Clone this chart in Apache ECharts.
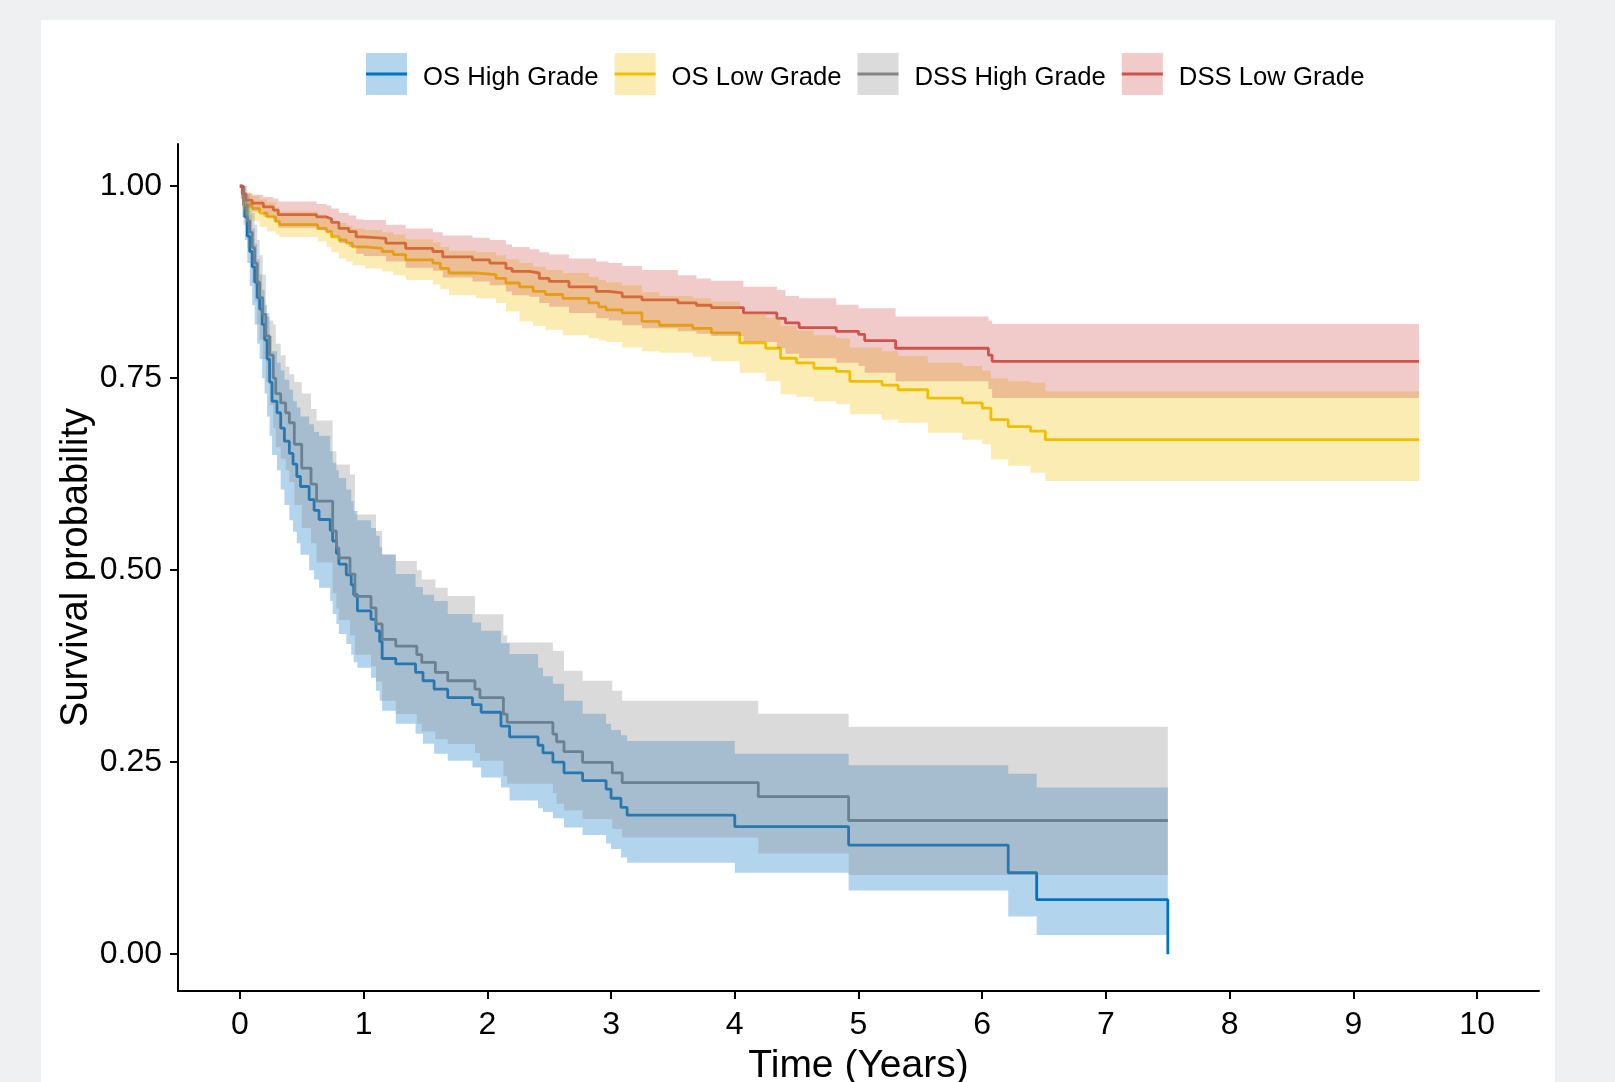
<!DOCTYPE html>
<html>
<head>
<meta charset="utf-8">
<script src="https://cdn.jsdelivr.net/npm/echarts@6/dist/echarts.min.js"></script>
<style>
html, body { margin: 0; padding: 0; background: #eff0f2; }
#panel { position: absolute; left: 41px; top: 20px; width: 1514px; height: 1062px; background: #fff; }
#main { position: absolute; left: 0; top: 0; width: 1615px; height: 1082px; }
</style>
</head>
<body>
<div id="panel"></div>
<div id="main"></div>
<script>
var FONT = "'Liberation Sans', Arial, sans-serif";

var names = ['OS High Grade', 'OS Low Grade', 'DSS High Grade', 'DSS Low Grade'];
var lineColors = ['#0073C2', '#EFC000', '#868686', '#CD534C'];
var bandColors = ['rgba(0,115,194,0.3)', 'rgba(239,192,0,0.3)', 'rgba(134,134,134,0.3)', 'rgba(205,83,76,0.3)'];
var keyColors = ['#b3d5ed', '#faecb3', '#dbdbdb', '#f0cbc9'];

var xTicks = [0, 1, 2, 3, 4, 5, 6, 7, 8, 9, 10];
var yTicks = [0, 0.25, 0.5, 0.75, 1];

// OS High Grade
var osHighT = [0, 0.02, 0.04, 0.06, 0.08, 0.10, 0.12, 0.14, 0.16, 0.18, 0.20, 0.22, 0.24, 0.26, 0.30, 0.33, 0.36, 0.40, 0.43, 0.46, 0.49, 0.56, 0.60, 0.64, 0.73, 0.75, 0.78, 0.80, 0.86, 0.90, 0.92, 0.95, 1.06, 1.10, 1.13, 1.15, 1.26, 1.42, 1.48, 1.57, 1.68, 1.88, 1.95, 2.11, 2.18, 2.41, 2.45, 2.53, 2.62, 2.77, 2.96, 3.00, 3.08, 3.13, 4.00, 4.92, 6.21, 6.44, 7.50];
var osHighS = [1, 0.985, 0.96, 0.935, 0.915, 0.895, 0.875, 0.855, 0.84, 0.82, 0.80, 0.775, 0.745, 0.72, 0.705, 0.685, 0.668, 0.652, 0.638, 0.622, 0.609, 0.592, 0.578, 0.566, 0.552, 0.538, 0.522, 0.508, 0.494, 0.481, 0.468, 0.447, 0.436, 0.421, 0.407, 0.385, 0.378, 0.367, 0.356, 0.345, 0.334, 0.325, 0.315, 0.297, 0.283, 0.272, 0.262, 0.25, 0.236, 0.226, 0.215, 0.203, 0.191, 0.181, 0.166, 0.142, 0.106, 0.071, 0];
var osHighLo = [1, 0.96, 0.93, 0.90, 0.87, 0.845, 0.82, 0.795, 0.775, 0.75, 0.73, 0.70, 0.675, 0.65, 0.63, 0.605, 0.585, 0.565, 0.55, 0.535, 0.52, 0.50, 0.488, 0.477, 0.46, 0.443, 0.43, 0.417, 0.404, 0.39, 0.38, 0.373, 0.36, 0.343, 0.33, 0.317, 0.300, 0.287, 0.274, 0.261, 0.252, 0.243, 0.230, 0.217, 0.200, 0.190, 0.185, 0.177, 0.165, 0.155, 0.144, 0.137, 0.126, 0.119, 0.106, 0.083, 0.049, 0.025, 0.025];
var osHighUp = [1, 1, 0.99, 0.975, 0.963, 0.945, 0.925, 0.905, 0.885, 0.865, 0.845, 0.83, 0.805, 0.785, 0.77, 0.76, 0.748, 0.735, 0.72, 0.712, 0.70, 0.69, 0.68, 0.675, 0.655, 0.64, 0.63, 0.62, 0.605, 0.59, 0.577, 0.565, 0.555, 0.545, 0.53, 0.52, 0.495, 0.478, 0.468, 0.46, 0.443, 0.432, 0.421, 0.405, 0.391, 0.373, 0.362, 0.352, 0.330, 0.313, 0.300, 0.292, 0.285, 0.2775, 0.261, 0.246, 0.235, 0.217, 0.217];

// OS Low Grade
var osLowT = [0, 0.02, 0.04, 0.10, 0.16, 0.22, 0.29, 0.32, 0.63, 0.70, 0.74, 0.80, 0.86, 0.91, 1.01, 1.15, 1.24, 1.34, 1.56, 1.62, 1.69, 1.91, 2.07, 2.15, 2.26, 2.37, 2.47, 2.61, 2.82, 2.90, 2.96, 3.09, 3.25, 3.39, 3.66, 3.81, 4.04, 4.25, 4.37, 4.50, 4.64, 4.82, 4.93, 5.19, 5.32, 5.56, 5.84, 6.00, 6.07, 6.21, 6.39, 6.51, 9.53];
var osLowS = [1, 0.985, 0.976, 0.971, 0.965, 0.96, 0.954, 0.95, 0.945, 0.941, 0.934, 0.93, 0.926, 0.921, 0.919, 0.915, 0.911, 0.904, 0.90, 0.893, 0.887, 0.885, 0.88, 0.874, 0.869, 0.863, 0.859, 0.854, 0.848, 0.843, 0.839, 0.835, 0.824, 0.819, 0.815, 0.809, 0.796, 0.789, 0.776, 0.77, 0.763, 0.759, 0.746, 0.741, 0.735, 0.724, 0.718, 0.711, 0.696, 0.687, 0.681, 0.67, 0.67];
var osLowLo = [1, 0.97, 0.962, 0.955, 0.947, 0.941, 0.937, 0.934, 0.928, 0.921, 0.914, 0.906, 0.902, 0.897, 0.893, 0.889, 0.884, 0.878, 0.872, 0.866, 0.858, 0.854, 0.848, 0.837, 0.824, 0.818, 0.813, 0.806, 0.802, 0.799, 0.797, 0.79, 0.785, 0.783, 0.778, 0.772, 0.757, 0.746, 0.729, 0.726, 0.72, 0.716, 0.703, 0.696, 0.692, 0.679, 0.67, 0.664, 0.644, 0.636, 0.627, 0.616, 0.616];
var osLowUp = [1, 0.998, 0.99, 0.987, 0.983, 0.979, 0.972, 0.967, 0.963, 0.96, 0.955, 0.952, 0.949, 0.945, 0.943, 0.94, 0.937, 0.931, 0.927, 0.921, 0.916, 0.914, 0.91, 0.905, 0.90, 0.895, 0.891, 0.887, 0.882, 0.878, 0.875, 0.871, 0.862, 0.857, 0.854, 0.85, 0.835, 0.829, 0.818, 0.812, 0.806, 0.802, 0.79, 0.785, 0.779, 0.77, 0.766, 0.76, 0.75, 0.746, 0.744, 0.733, 0.733];

// DSS High Grade
var dssHighT = [0, 0.03, 0.06, 0.08, 0.10, 0.12, 0.14, 0.16, 0.185, 0.21, 0.24, 0.27, 0.29, 0.33, 0.37, 0.40, 0.44, 0.50, 0.575, 0.62, 0.75, 0.78, 0.80, 0.89, 0.93, 1.06, 1.10, 1.15, 1.26, 1.43, 1.47, 1.58, 1.68, 1.90, 1.94, 2.13, 2.16, 2.53, 2.56, 2.62, 2.77, 3.01, 3.09, 4.19, 4.92, 7.50];
var dssHighS = [1, 0.975, 0.955, 0.94, 0.92, 0.90, 0.875, 0.855, 0.833, 0.805, 0.78, 0.75, 0.73, 0.718, 0.705, 0.692, 0.664, 0.633, 0.612, 0.59, 0.551, 0.529, 0.516, 0.495, 0.466, 0.451, 0.43, 0.41, 0.401, 0.39, 0.38, 0.367, 0.356, 0.345, 0.334, 0.3125, 0.3017, 0.2866, 0.2766, 0.2636, 0.2497, 0.236, 0.2233, 0.205, 0.174, 0.174];
var dssHighLo = [1, 0.95, 0.92, 0.90, 0.875, 0.85, 0.82, 0.80, 0.775, 0.745, 0.715, 0.685, 0.66, 0.645, 0.63, 0.615, 0.585, 0.555, 0.535, 0.51, 0.47, 0.45, 0.435, 0.415, 0.39, 0.375, 0.355, 0.33, 0.3126, 0.30, 0.29, 0.28, 0.2736, 0.262, 0.252, 0.232, 0.222, 0.21, 0.196, 0.187, 0.176, 0.163, 0.152, 0.131, 0.103, 0.103];
var dssHighUp = [1, 1, 0.99, 0.98, 0.965, 0.95, 0.93, 0.91, 0.885, 0.835, 0.825, 0.82, 0.795, 0.78, 0.765, 0.755, 0.745, 0.73, 0.71, 0.695, 0.655, 0.6376, 0.6376, 0.6246, 0.5726, 0.5726, 0.5509, 0.5206, 0.5119, 0.50, 0.488, 0.4772, 0.4664, 0.4426, 0.4426, 0.415, 0.4057, 0.395, 0.3949, 0.3689, 0.3559, 0.3429, 0.3299, 0.313, 0.296, 0.296];

// DSS Low Grade
var dssLowT = [0, 0.02, 0.05, 0.10, 0.19, 0.27, 0.31, 0.62, 0.70, 0.74, 0.80, 0.88, 0.94, 1.00, 1.18, 1.34, 1.56, 1.64, 1.88, 2.02, 2.15, 2.20, 2.34, 2.42, 2.50, 2.66, 2.88, 2.98, 3.09, 3.25, 3.54, 3.69, 3.81, 4.07, 4.34, 4.41, 4.52, 4.82, 5.00, 5.05, 5.30, 6.05, 6.08, 9.53];
var dssLowS = [1, 0.99, 0.982, 0.978, 0.973, 0.969, 0.963, 0.96, 0.9575, 0.953, 0.945, 0.941, 0.934, 0.932, 0.926, 0.919, 0.915, 0.908, 0.904, 0.90, 0.893, 0.889, 0.887, 0.88, 0.876, 0.869, 0.863, 0.861, 0.856, 0.852, 0.848, 0.845, 0.842, 0.835, 0.828, 0.822, 0.816, 0.811, 0.807, 0.799, 0.789, 0.78, 0.772, 0.772];
var dssLowLo = [1, 0.98, 0.972, 0.967, 0.96, 0.954, 0.946, 0.943, 0.94, 0.935, 0.926, 0.921, 0.912, 0.909, 0.902, 0.894, 0.89, 0.881, 0.876, 0.871, 0.863, 0.858, 0.856, 0.848, 0.843, 0.835, 0.828, 0.825, 0.819, 0.815, 0.811, 0.808, 0.805, 0.797, 0.789, 0.782, 0.776, 0.77, 0.766, 0.757, 0.746, 0.736, 0.7242, 0.7242];
var dssLowUp = [1, 1, 0.992, 0.989, 0.986, 0.984, 0.98, 0.977, 0.975, 0.971, 0.965, 0.962, 0.957, 0.956, 0.95, 0.945, 0.94, 0.936, 0.933, 0.93, 0.924, 0.921, 0.918, 0.914, 0.911, 0.906, 0.902, 0.90, 0.896, 0.891, 0.884, 0.88, 0.877, 0.869, 0.865, 0.857, 0.854, 0.8456, 0.8412, 0.8412, 0.8304, 0.825, 0.8205, 0.8205];

var groups = [
    { t: osHighT, s: osHighS, lo: osHighLo, up: osHighUp },
    { t: osLowT, s: osLowS, lo: osLowLo, up: osLowUp },
    { t: dssHighT, s: dssHighS, lo: dssHighLo, up: dssHighUp },
    { t: dssLowT, s: dssLowS, lo: dssLowLo, up: dssLowUp }
];

function lineSeries(i) {
    var g = groups[i];
    return {
        type: 'line',
        name: names[i],
        step: 'end',
        symbol: 'none',
        silent: true,
        z: 2,
        lineStyle: { color: lineColors[i], width: 2.8 },
        itemStyle: { color: lineColors[i] },
        data: g.t.map(function (x, k) { return [x, g.s[k]]; })
    };
}

// confidence ribbon, drawn as one stepped polygon
function bandSeries(i) {
    var g = groups[i];
    return {
        type: 'custom',
        name: names[i] + ' CI',
        silent: true,
        z: 3,
        data: g.t.map(function (x, k) { return [x, g.lo[k], g.up[k]]; }),
        encode: { x: 0, y: [1, 2] },
        renderItem: function (params, api) {
            if (params.dataIndex !== 0) return null;
            var top = [], bot = [];
            for (var k = 0; k < g.t.length; k++) {
                var x1 = g.t[k];
                var x2 = k + 1 < g.t.length ? g.t[k + 1] : g.t[k];
                top.push(api.coord([x1, g.up[k]]), api.coord([x2, g.up[k]]));
                bot.push(api.coord([x1, g.lo[k]]), api.coord([x2, g.lo[k]]));
            }
            return {
                type: 'polygon',
                shape: { points: top.concat(bot.reverse()) },
                style: { fill: bandColors[i] }
            };
        }
    };
}

var series = [];
for (var i = 0; i < 4; i++) series.push(lineSeries(i));
for (var i = 0; i < 4; i++) series.push(bandSeries(i));

var keyBar = 'path://M0 0L0 0M41 42L41 42M0 19.5H41V22.5H0Z';
var clear = 'rgba(0,0,0,0)';

// three stacked legends with identical layout: key fill, key line, text
function legendBase(top, icon, iconColors, textColor) {
    return {
        left: 366, top: top, padding: 0,
        orient: 'horizontal',
        itemWidth: 41, itemHeight: 42, itemGap: 16,
        selectedMode: false,
        icon: icon,
        data: names.map(function (n, k) { return { name: n, itemStyle: { color: iconColors[k], borderWidth: 0 } }; }),
        textStyle: { fontSize: 25.7, fontFamily: FONT, color: textColor, padding: [0, 0, 0, 11] }
    };
}

var myChart = echarts.init(document.getElementById('main'));

var option = {
    animation: false,
    backgroundColor: 'transparent',
    grid: { left: 178, right: 76, top: 144, bottom: 91, containLabel: false, outerBoundsMode: 'none' },
    legend: [
        legendBase(53, 'rect', keyColors, clear),
        legendBase(53, keyBar, lineColors, clear),
        legendBase(57, 'rect', [clear, clear, clear, clear], '#000')
    ],
    xAxis: {
        type: 'value',
        min: -0.5,
        max: 10.5,
        name: 'Time (Years)',
        nameLocation: 'middle',
        nameGap: 56,
        nameMoveOverlap: false,
        nameTextStyle: { fontSize: 39, fontFamily: FONT, color: '#000' },
        axisLine: { onZero: false, lineStyle: { color: '#000', width: 2 } },
        axisTick: { show: true, length: 8, customValues: xTicks, lineStyle: { color: '#000', width: 2 } },
        axisLabel: { customValues: xTicks, fontSize: 32, fontFamily: FONT, color: '#000', margin: 18 },
        splitLine: { show: false }
    },
    yAxis: {
        type: 'value',
        min: -0.048,
        max: 1.055,
        name: 'Survival probability',
        nameLocation: 'middle',
        nameGap: 82,
        nameMoveOverlap: false,
        nameTextStyle: { fontSize: 38, fontFamily: FONT, color: '#000' },
        axisLine: { show: true, onZero: false, lineStyle: { color: '#000', width: 2 } },
        axisTick: { show: true, length: 8, customValues: yTicks, lineStyle: { color: '#000', width: 2 } },
        axisLabel: {
            customValues: yTicks, fontSize: 32, fontFamily: FONT, color: '#000', margin: 16,
            formatter: function (v) { return v.toFixed(2); }
        },
        splitLine: { show: false }
    },
    series: series
};

myChart.setOption(option);
</script>
</body>
</html>
